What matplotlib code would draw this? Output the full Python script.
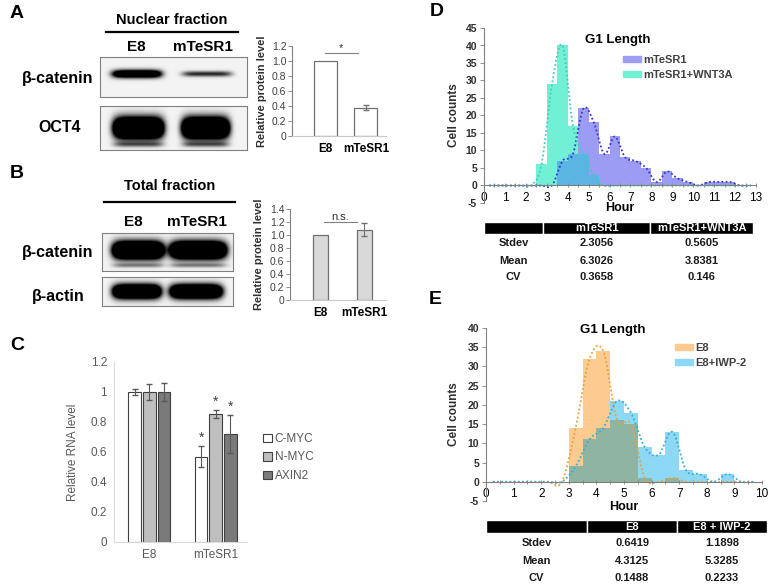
import numpy as np
import matplotlib
matplotlib.use('Agg')
import matplotlib.pyplot as plt
from matplotlib.patches import Patch
from matplotlib.lines import Line2D

plt.rcParams['font.family'] = ['Liberation Sans', 'DejaVu Sans']
plt.rcParams['axes.unicode_minus'] = False

# ---- data ----
wb_groups = ['E8', 'mTeSR1']
nuc_level = [1.0, 0.38]
nuc_err = [0.0, 0.03]
tot_level = [1.0, 1.08]
tot_err = [0.0, 0.10]

rna_genes = ['C-MYC', 'N-MYC', 'AXIN2']
rna_groups = ['E8', 'mTeSR1']
rna_e8 = [1.0, 1.0, 1.0]
rna_e8_err = [0.02, 0.055, 0.06]
rna_mt = [0.57, 0.855, 0.72]
rna_mt_err = [0.07, 0.025, 0.125]

d_starts = np.arange(0, 13, 0.5)
d_mtesr = [0, 0, 0, 0, 0, 0, 0, 7, 9, 22, 18, 9, 14, 8, 7, 5, 1, 4, 2, 1, 0, 1, 1, 1, 0, 0]
d_wnt = [0, 0, 0, 0, 0, 6, 29, 40, 17, 9, 3, 0, 0, 0, 0, 0, 0, 0, 0, 0, 0, 0, 0, 0, 0, 0]

e_starts = np.arange(0, 10, 0.5)
e_e8 = [0, 0, 0, 0, 0, 0, 14, 32, 34, 16, 15, 1, 0, 1, 0, 0, 0, 0, 0, 0]
e_iwp = [0, 0, 0, 0, 0, 0, 4, 11, 14, 21, 18, 9, 7, 13, 3, 2, 0, 2, 0, 0]

stat_rows = ['Stdev', 'Mean', 'CV']
d_head = ['', 'mTeSR1', 'mTeSR1+WNT3A']
d_col1 = ['2.3056', '6.3026', '0.3658']
d_col2 = ['0.5605', '3.8381', '0.146']
e_head = ['', 'E8', 'E8 + IWP-2']
e_col1 = ['0.6419', '4.3125', '0.1488']
e_col2 = ['1.1898', '5.3285', '0.2233']

# blot bands: x0, x1, y centre, thickness, darkness
nuc_bcat = [(0.08, 0.42, 0.42, 0.10, 1.8), (0.56, 0.90, 0.42, 0.07, 0.8)]
nuc_oct4 = [(0.09, 0.43, 0.50, 0.23, 3.0), (0.56, 0.88, 0.50, 0.23, 3.0),
            (0.09, 0.43, 0.88, 0.06, 0.5), (0.56, 0.88, 0.88, 0.06, 0.5)]
tot_bcat = [(0.08, 0.47, 0.45, 0.22, 3.0), (0.52, 0.95, 0.45, 0.22, 3.0),
            (0.08, 0.47, 0.86, 0.06, 0.4), (0.52, 0.95, 0.86, 0.06, 0.4)]
tot_actin = [(0.08, 0.45, 0.50, 0.24, 2.6), (0.52, 0.92, 0.50, 0.24, 2.6)]

W, H = 770, 586
fig = plt.figure(figsize=(W / 100, H / 100), dpi=100)


def fbox(l, t, r, b):
    return [l / W, 1 - b / H, (r - l) / W, (b - t) / H]


def ftext(x, y, s, **kw):
    kw.setdefault('ha', 'center')
    kw.setdefault('va', 'center')
    fig.text(x / W, 1 - y / H, s, **kw)


def hline(x0, x1, y, lw=1.6):
    fig.add_artist(Line2D([x0 / W, x1 / W], [1 - y / H, 1 - y / H], color='black', lw=lw,
                          transform=fig.transFigure))


def blot(rect, bands, shape):
    ax = fig.add_axes(rect)
    h, w = shape
    yy, xx = np.mgrid[0:1:h * 1j, 0:1:w * 1j]
    img = np.full((h, w), 0.05)
    for x0, x1, yc, th, dark in bands:
        cx, hw = (x0 + x1) / 2, (x1 - x0) / 2
        img += dark * np.exp(-((xx - cx) / hw) ** 6 - ((yy - yc) / th) ** 2)
    ax.imshow(np.clip(img, 0, 1), cmap='gray_r', vmin=0, vmax=1, aspect='auto',
              extent=(0, 1, 1, 0), interpolation='bilinear')
    ax.set_xticks([])
    ax.set_yticks([])
    for sp in ax.spines.values():
        sp.set_color('#808080')
        sp.set_linewidth(0.8)


def small_bar(rect, vals, errs, xlim, ylim, yt, width, color, sig, sig_y, sig_txt):
    ax = fig.add_axes(rect)
    x = np.arange(len(vals))
    ax.bar(x, vals, width=width, color=color, edgecolor='#707070', lw=0.9)
    ax.errorbar(x[1:], vals[1:], yerr=errs[1:], fmt='none', ecolor='#707070', capsize=2, lw=0.8)
    ax.set_xlim(*xlim)
    ax.set_ylim(*ylim)
    ax.set_yticks(yt)
    ax.set_yticklabels(['0' if v == 0 else f'{v:.1f}' for v in yt], fontsize=7.5, color='#404040')
    ax.set_xticks(x)
    ax.set_xticklabels(wb_groups, fontsize=8.5, fontweight='bold')
    ax.tick_params(axis='x', length=0, pad=5)
    ax.tick_params(axis='y', length=3, width=0.6, color='#808080', pad=1)
    for s in ['top', 'right']:
        ax.spines[s].set_visible(False)
    ax.spines['left'].set_color('#808080')
    ax.spines['bottom'].set_color('#c8c8c8')
    ax.set_ylabel('Relative protein level', fontsize=8, fontweight='bold', color='#303030')
    ax.yaxis.set_label_coords(-0.27, 0.5)
    ax.plot(sig, [sig_y, sig_y], color='#808080', lw=0.8)
    ax.text(np.mean(sig), sig_y, sig_txt, ha='center', va='bottom', fontsize=8, color='#303030')
    return ax


# ---------------- Panel A ----------------
ftext(10, 13, 'A', fontsize=14, fontweight='bold', ha='left')
ftext(172, 20, 'Nuclear fraction', fontsize=10.5, fontweight='bold')
hline(106, 238, 32)
ftext(136, 47, 'E8', fontsize=11, fontweight='bold')
ftext(203, 47, 'mTeSR1', fontsize=11, fontweight='bold')
ftext(58, 78, 'β-catenin', fontsize=11.5, fontweight='bold')
ftext(60, 128, 'OCT4', fontsize=11.5, fontweight='bold')
blot(fbox(100, 57, 247, 97), nuc_bcat, (40, 147))
blot(fbox(100, 106, 247, 150), nuc_oct4, (44, 147))
small_bar(fbox(292, 46, 386, 136), nuc_level, nuc_err, (-0.84, 1.5), (0, 1.2),
          [0, 0.2, 0.4, 0.6, 0.8, 1.0, 1.2], 0.57, 'white', (-0.03, 0.8), 1.11, '*')

# ---------------- Panel B ----------------
ftext(10, 173, 'B', fontsize=14, fontweight='bold', ha='left')
ftext(170, 186, 'Total fraction', fontsize=10.5, fontweight='bold')
hline(104, 235, 202)
ftext(133, 222, 'E8', fontsize=11, fontweight='bold')
ftext(197, 222, 'mTeSR1', fontsize=11, fontweight='bold')
ftext(58, 253, 'β-catenin', fontsize=11.5, fontweight='bold')
ftext(58, 297, 'β-actin', fontsize=11.5, fontweight='bold')
blot(fbox(102, 233, 233, 271), tot_bcat, (38, 131))
blot(fbox(102, 277, 233, 306), tot_actin, (29, 131))
small_bar(fbox(290, 209, 386, 300), tot_level, tot_err, (-0.71, 1.5), (0, 1.4),
          [0, 0.2, 0.4, 0.6, 0.8, 1.0, 1.2, 1.4], 0.34, '#d9d9d9', (0.07, 0.83), 1.2, 'n.s.')

# ---------------- Panel C ----------------
ftext(10, 345, 'C', fontsize=14, fontweight='bold', ha='left')
axc = fig.add_axes(fbox(114, 362, 247, 542))
gx = np.arange(len(rna_groups))
cols = ['white', '#bfbfbf', '#7a7a7a']
offs = [-0.22, 0, 0.22]
for i, g in enumerate(rna_genes):
    vals = [rna_e8[i], rna_mt[i]]
    errs = [rna_e8_err[i], rna_mt_err[i]]
    axc.bar(gx + offs[i], vals, width=0.19, color=cols[i], edgecolor='#404040', lw=0.8, label=g)
    axc.errorbar(gx + offs[i], vals, yerr=errs, fmt='none', ecolor='#595959', capsize=2, lw=0.8)
    axc.text(1 + offs[i], rna_mt[i] + rna_mt_err[i] + 0.01, '*', ha='center', va='bottom',
             fontsize=10, color='#404040')
axc.set_xlim(-0.53, 1.47)
axc.set_ylim(0, 1.2)
axc.set_yticks([0, 0.2, 0.4, 0.6, 0.8, 1, 1.2])
axc.set_yticklabels(['0', '0.2', '0.4', '0.6', '0.8', '1', '1.2'], fontsize=8.5, color='#595959')
axc.set_xticks(gx)
axc.set_xticklabels(rna_groups, fontsize=8.5, color='#595959')
axc.tick_params(length=0, pad=5)
for s in ['top', 'right']:
    axc.spines[s].set_visible(False)
axc.spines['left'].set_color('#d9d9d9')
axc.spines['bottom'].set_color('#d9d9d9')
axc.set_ylabel('Relative RNA level', fontsize=8.5, color='#595959')
axc.yaxis.set_label_coords(-0.26, 0.5)
fig.legend(*axc.get_legend_handles_labels(), loc='upper left', bbox_to_anchor=(263 / W, 1 - 433 / H),
           frameon=False, fontsize=8.5, labelcolor='#595959', handlelength=0.75, handleheight=0.75,
           handletextpad=0.25, labelspacing=0.55, borderpad=0, borderaxespad=0)


# ---------------- Panels D / E ----------------
def smooth(x, y, n=16):
    px = np.concatenate([[x[0]], x, [x[-1]]])
    py = np.concatenate([[y[0]], y, [y[-1]]])
    t = np.linspace(0, 1, n)[:, None]
    xs, ys = [], []
    for i in range(1, len(px) - 2):
        for p, out in ((px, xs), (py, ys)):
            p0, p1, p2, p3 = p[i - 1], p[i], p[i + 1], p[i + 2]
            out.append((0.5 * (2 * p1 + (-p0 + p2) * t + (2 * p0 - 5 * p1 + 4 * p2 - p3) * t ** 2
                               + (-p0 + 3 * p1 - 3 * p2 + p3) * t ** 3)).ravel())
    return np.concatenate(xs), np.concatenate(ys)


def hist_panel(rect, starts, s1, s2, c1, c2, cov, lc1, lc2, names, xmax, ymax, leg_anchor,
               ylab_x, xlab_y):
    ax = fig.add_axes(rect)
    centers = starts + 0.25
    s1, s2 = np.array(s1), np.array(s2)
    ax.bar(centers, s1, width=0.5, color=c1, lw=0)
    ax.bar(centers, s2, width=0.5, color=c2, lw=0)
    ax.bar(centers, np.minimum(s1, s2), width=0.5, color=cov, lw=0)
    for s, lc in ((s1, lc1), (s2, lc2)):
        xs, ys = smooth(centers, s)
        ax.plot(xs, ys, ls=(0, (1, 1.3)), color=lc, lw=1.3)
    ax.set_xlim(0, xmax)
    ax.set_ylim(-5, ymax)
    ax.set_yticks(np.arange(-5, ymax + 1, 5))
    ax.set_xticks(np.arange(0, xmax + 1, 1))
    ax.set_xticks(np.arange(0, xmax, 0.5), minor=True)
    for lab in ax.get_xticklabels() + ax.get_yticklabels():
        lab.set_fontweight('bold')
    ax.tick_params(axis='y', labelsize=7.5, length=3, width=0.6, color='#808080', pad=2, labelcolor='#303030')
    ax.tick_params(axis='x', which='both', direction='inout', length=3, width=0.6, color='#808080',
                   labelsize=8.5, pad=3)
    for s in ['top', 'right']:
        ax.spines[s].set_visible(False)
    ax.spines['bottom'].set_position(('data', 0))
    ax.spines['bottom'].set_color('#808080')
    ax.spines['left'].set_color('#808080')
    ax.set_xlabel('Hour', fontsize=9, fontweight='bold', va='center')
    ax.xaxis.set_label_coords(0.5, xlab_y)
    ax.set_ylabel('Cell counts', fontsize=8.5, fontweight='bold', color='#303030')
    ax.yaxis.set_label_coords(ylab_x, 0.5)
    ax.legend([Patch(color=c1), Patch(color=c2)], names, loc='upper left', bbox_to_anchor=leg_anchor,
              bbox_transform=fig.transFigure, frameon=False, prop={'weight': 'bold', 'size': 8},
              labelcolor='#404040', handlelength=1.6, handleheight=0.55, handletextpad=0.25,
              labelspacing=0.45, borderpad=0, borderaxespad=0)
    return ax


def stats_table(rect, head, col1, col2, widths, heights):
    ax = fig.add_axes(rect)
    ax.axis('off')
    cells = [[r, a, b] for r, a, b in zip(stat_rows, col1, col2)]
    tb = ax.table(cellText=cells, colLabels=head, cellLoc='center', loc='center', colWidths=widths)
    tb.auto_set_font_size(False)
    tb.set_fontsize(8)
    for (r, c), cell in tb.get_celld().items():
        cell.set_height(heights[r])
        cell.get_text().set_fontweight('bold')
        if r == 0:
            cell.set_facecolor('black')
            cell.set_edgecolor('white')
            cell.set_linewidth(1.0)
            cell.get_text().set_color('white')
        else:
            cell.set_edgecolor('none')
            cell.get_text().set_color('#1a1a1a')


# Panel D
ftext(437, 12, 'D', fontsize=14, fontweight='bold')
hist_panel(fbox(484, 28, 756, 203), d_starts, d_mtesr, d_wnt, '#9c9cf5', '#72f0d6', '#5ab5e2',
           '#3535d0', '#3ccfbf', ['mTeSR1', 'mTeSR1+WNT3A'], 13, 45, (623 / W, 1 - 55 / H),
           -0.09, -0.03)
ftext(618, 40, 'G1 Length', fontsize=9.5, fontweight='bold')
stats_table(fbox(484, 222, 753, 285.5), d_head, d_col1, d_col2,
            [59 / 269, 107 / 269, 103 / 269], [11.5 / 63.5, 20 / 63.5, 16 / 63.5, 16 / 63.5])

# Panel E
ftext(435, 300, 'E', fontsize=14, fontweight='bold')
hist_panel(fbox(486, 328, 762, 501), e_starts, e_e8, e_iwp, '#fdca8f', '#8dd8f4', '#8fb5a2',
           '#e9a03e', '#38acd6', ['E8', 'E8+IWP-2'], 10, 40, (675 / W, 1 - 343 / H),
           -0.095, -0.035)
ftext(613, 330, 'G1 Length', fontsize=9.5, fontweight='bold')
stats_table(fbox(486, 520, 767, 586), e_head, e_col1, e_col2,
            [101 / 281, 90 / 281, 90 / 281], [13 / 66, 20 / 66, 16.5 / 66, 16.5 / 66])

fig.savefig('out.png', dpi=100)
